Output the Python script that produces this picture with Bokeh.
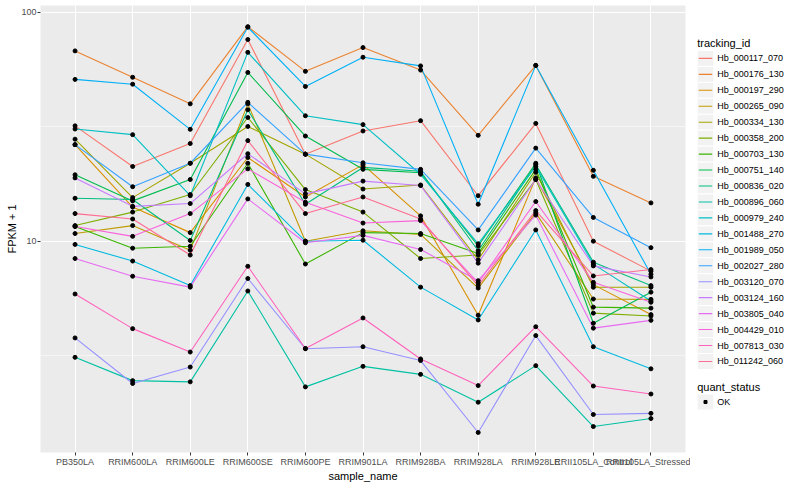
from bokeh.plotting import figure
from bokeh.layouts import row
from bokeh.models import Range1d, FactorRange, FixedTicker, PrintfTickFormatter
from bokeh.core.properties import value
from bokeh.embed import file_html
from bokeh.resources import INLINE

samples = ["PB350LA", "RRIM600LA", "RRIM600LE", "RRIM600SE", "RRIM600PE", "RRIM901LA",
           "RRIM928BA", "RRIM928LA", "RRIM928LE", "RRII105LA_Control", "RRII105LA_Stressed"]

hb_000117_070 = [31.9, 21.2, 26.7, 76.0, 24.0, 30.3, 33.6, 15.8, 32.7, 10.0, 7.4]
hb_000176_130 = [67.8, 52.0, 39.8, 86.5, 55.2, 70.1, 55.9, 29.0, 58.6, 19.2, 14.7]
hb_000197_290 = [26.4, 14.1, 10.9, 23.2, 15.6, 21.6, 12.9, 4.75, 18.9, 6.46, 4.78]
hb_000265_090 = [10.8, 11.7, 9.14, 39.8, 10.0, 11.1, 10.7, 6.24, 13.3, 5.59, 5.57]
hb_000334_130 = [27.9, 15.5, 21.9, 31.7, 24.0, 16.9, 17.6, 8.29, 20.0, 6.29, 6.29]
hb_000358_200 = [11.7, 13.4, 16.0, 34.7, 16.8, 13.4, 8.4, 8.7, 18.6, 4.85, 4.71]
hb_000703_130 = [11.6, 9.32, 9.5, 21.9, 7.95, 10.9, 10.8, 8.84, 20.6, 5.15, 5.10]
hb_000751_140 = [19.5, 15.0, 18.6, 54.6, 28.8, 20.6, 19.9, 9.53, 21.9, 4.38, 5.99]
hb_000836_020 = [15.4, 15.2, 10.07, 37.5, 14.5, 21.0, 20.2, 9.08, 21.6, 8.1, 6.40]
hb_000896_060 = [3.11, 2.46, 2.43, 6.06, 2.31, 2.84, 2.62, 1.98, 2.86, 1.55, 1.68]
hb_000979_240 = [30.9, 29.2, 15.8, 66.8, 35.3, 32.3, 19.6, 9.74, 21.2, 7.94, 5.48]
hb_001488_270 = [9.68, 8.19, 6.40, 17.7, 10.0, 10.1, 6.30, 4.53, 11.2, 3.46, 2.77]
hb_001989_050 = [50.9, 48.5, 30.8, 86.0, 47.4, 63.6, 58.3, 14.5, 58.6, 20.4, 7.17]
hb_002027_280 = [26.4, 17.3, 21.9, 40.4, 24.0, 22.0, 20.6, 11.2, 25.5, 12.7, 9.37]
hb_003120_070 = [3.78, 2.39, 2.82, 6.87, 3.39, 3.46, 3.01, 1.46, 3.87, 1.75, 1.77]
hb_003124_160 = [18.9, 14.2, 14.6, 24.1, 16.1, 18.3, 17.5, 8.02, 18.6, 7.8, 6.98]
hb_003805_040 = [8.4, 7.03, 6.30, 15.3, 9.84, 10.6, 9.2, 6.72, 13.0, 4.17, 4.51]
hb_004429_010 = [11.6, 10.5, 13.2, 20.7, 14.8, 12.0, 12.3, 6.57, 14.9, 6.61, 5.41]
hb_007813_030 = [5.88, 4.15, 3.28, 7.77, 3.40, 4.62, 3.06, 2.34, 4.23, 2.33, 2.15]
hb_011242_060 = [13.2, 12.5, 8.7, 27.5, 13.2, 15.6, 12.5, 6.40, 13.6, 7.05, 7.52]

tracking_ids = ["Hb_000117_070", "Hb_000176_130", "Hb_000197_290", "Hb_000265_090",
                "Hb_000334_130", "Hb_000358_200", "Hb_000703_130", "Hb_000751_140",
                "Hb_000836_020", "Hb_000896_060", "Hb_000979_240", "Hb_001488_270",
                "Hb_001989_050", "Hb_002027_280", "Hb_003120_070", "Hb_003124_160",
                "Hb_003805_040", "Hb_004429_010", "Hb_007813_030", "Hb_011242_060"]
series = [hb_000117_070, hb_000176_130, hb_000197_290, hb_000265_090, hb_000334_130,
          hb_000358_200, hb_000703_130, hb_000751_140, hb_000836_020, hb_000896_060,
          hb_000979_240, hb_001488_270, hb_001989_050, hb_002027_280, hb_003120_070,
          hb_003124_160, hb_003805_040, hb_004429_010, hb_007813_030, hb_011242_060]
colors = ["#F8766D", "#EA8331", "#D89000", "#C09B00", "#A3A500", "#7CAE00", "#39B600",
          "#00BB4E", "#00BF7D", "#00C1A3", "#00BFC4", "#00BAE0", "#00B0F6", "#35A2FF",
          "#9590FF", "#C77CFF", "#E76BF3", "#FA62DB", "#FF62BC", "#FF6C91"]
quant_levels = ["OK"]

FONT = "Liberation Sans"
MAIN_W = 690
TOTAL_W = 784
H = 484

p = figure(width=MAIN_W, height=H, output_backend="svg", toolbar_location=None,
           x_range=FactorRange(factors=samples, range_padding=0.1, range_padding_units="absolute"),
           y_axis_type="log", y_range=Range1d(10 ** 0.077, 10 ** 2.0295),
           min_border_left=40, min_border_right=5, min_border_top=5, min_border_bottom=24)
p.background_fill_color = "#EBEBEB"
p.border_fill_color = "white"
p.outline_line_color = None

p.yaxis.ticker = FixedTicker(ticks=[10, 100], minor_ticks=[10 ** 0.5, 10 ** 1.5])
p.yaxis.formatter = PrintfTickFormatter(format="%d")
for ax in (p.xaxis, p.yaxis):
    ax.axis_line_color = None
    ax.major_tick_line_color = "#333333"
    ax.major_tick_in = 0
    ax.major_tick_out = 3
    ax.minor_tick_in = 0
    ax.minor_tick_out = 0
    ax.major_label_text_font = FONT
    ax.major_label_text_font_size = "9px"
    ax.major_label_text_color = "#4D4D4D"
    ax.major_label_standoff = 1
    ax.axis_label_text_font = FONT
    ax.axis_label_text_font_size = "11px"
    ax.axis_label_text_font_style = "normal"
    ax.axis_label_text_color = "black"
    ax.axis_label_standoff = 0
p.xaxis.axis_label = "sample_name"
p.yaxis.axis_label = "FPKM + 1"

p.xgrid.grid_line_color = "white"
p.xgrid.grid_line_width = 1.07
p.ygrid.grid_line_color = "white"
p.ygrid.grid_line_width = 1.07
p.ygrid.minor_grid_line_color = "white"
p.ygrid.minor_grid_line_width = 0.53

for vals, c in zip(series, colors):
    p.line(x=samples, y=vals, line_color=c, line_width=1.1)
for vals in series:
    p.scatter(x=samples, y=vals, marker="circle", size=4, fill_color="black", line_color="black")

# legend panel (pixel coordinates)
LW = TOTAL_W - MAIN_W
leg = figure(width=LW, height=H, output_backend="svg", toolbar_location=None,
             x_range=Range1d(0, LW), y_range=Range1d(H, 0),
             x_axis_location=None, y_axis_location=None, min_border=0)
leg.grid.visible = False
leg.outline_line_color = None
leg.background_fill_color = "white"

step = 17.27
ys = [57.3 + step * i for i in range(len(tracking_ids))]
leg.text(x=[6.7], y=[40.5], text=["tracking_id"], text_font=value(FONT),
         text_font_size=value("11px"), text_baseline="middle", text_align="left", text_color="black")
leg.rect(x=15.0, y=ys, width=16.7, height=step, fill_color="#F2F2F2", line_color="white", line_width=1)
for yy, c in zip(ys, colors):
    leg.line(x=[8.3, 21.7], y=[yy, yy], line_color=c, line_width=1.1)
leg.text(x=[26.7] * len(ys), y=ys, text=tracking_ids, text_font=value(FONT),
         text_font_size=value("9px"), text_baseline="middle", text_align="left", text_color="black")

qy = 429.3
leg.text(x=[6.7], y=[412.7], text=["quant_status"], text_font=value(FONT),
         text_font_size=value("11px"), text_baseline="middle", text_align="left", text_color="black")
leg.rect(x=15.0, y=[qy], width=16.7, height=step, fill_color="#F2F2F2", line_color="white", line_width=1)
leg.scatter(x=[15.0], y=[qy], marker="square", size=3, fill_color="black", line_color="black")
leg.text(x=[26.7], y=[qy], text=quant_levels, text_font=value(FONT),
         text_font_size=value("9px"), text_baseline="middle", text_align="left", text_color="black")

layout = row(p, leg)
open("out.html", "w").write(file_html(layout, INLINE))
